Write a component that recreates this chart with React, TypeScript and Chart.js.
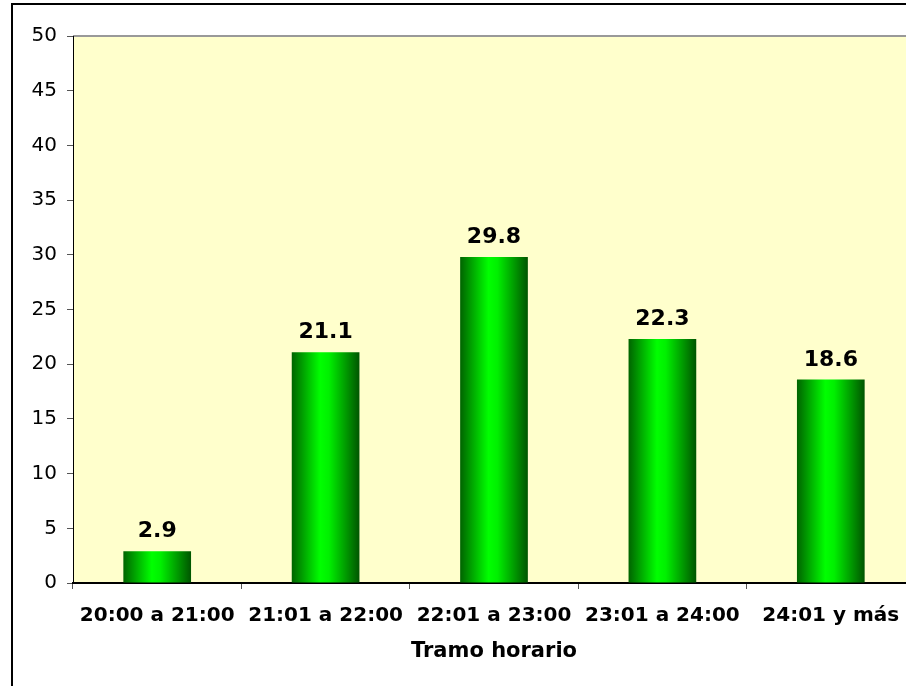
import React, { useEffect, useRef } from "react";
import { Chart, registerables } from "chart.js";

Chart.register(...registerables);

const categories = ["20:00 a 21:00", "21:01 a 22:00", "22:01 a 23:00", "23:01 a 24:00", "24:01 y más"];
const values = [2.9, 21.1, 29.8, 22.3, 18.6];
const xTitle = "Tramo horario";
const yMin = 0;
const yMax = 50;
const yStep = 5;

const FONT = '"DejaVu Sans", Verdana, sans-serif';
const CAT_PCT = 1;
const BAR_PCT = 0.402;

const bgPlugin = {
  id: "plotBg",
  beforeDraw(chart: any) {
    const { ctx, chartArea } = chart;
    if (!chartArea) return;
    ctx.save();
    ctx.fillStyle = "#FFFFCC";
    ctx.fillRect(chartArea.left, chartArea.top, chartArea.right - chartArea.left, chartArea.bottom - chartArea.top);
    ctx.strokeStyle = "#999999";
    ctx.lineWidth = 2;
    ctx.beginPath();
    ctx.moveTo(chartArea.left, chartArea.top);
    ctx.lineTo(chartArea.right, chartArea.top);
    ctx.stroke();
    ctx.restore();
  },
};

const labelPlugin = {
  id: "valueLabels",
  afterDatasetsDraw(chart: any) {
    const { ctx } = chart;
    const meta = chart.getDatasetMeta(0);
    ctx.save();
    ctx.font = `bold 22px ${FONT}`;
    ctx.fillStyle = "#000";
    ctx.textAlign = "center";
    ctx.textBaseline = "alphabetic";
    meta.data.forEach((bar: any, i: number) => {
      ctx.fillText(String(values[i]), bar.x, bar.y - 14);
    });
    ctx.restore();
  },
};

export default function App() {
  const ref = useRef<HTMLCanvasElement>(null);
  useEffect(() => {
    if (!ref.current) return;
    const chart = new Chart(ref.current, {
      type: "bar",
      data: {
        labels: categories,
        datasets: [
          {
            data: values,
            borderWidth: 0,
            categoryPercentage: CAT_PCT,
            barPercentage: BAR_PCT,
            backgroundColor: (c: any) => {
              const ch = c.chart;
              const xs = ch.scales && ch.scales.x;
              if (!ch.chartArea || !xs) return "#00cc00";
              const cx = xs.getPixelForValue(c.dataIndex);
              const w = (xs.width / categories.length) * CAT_PCT * BAR_PCT;
              const g = ch.ctx.createLinearGradient(cx - w / 2, 0, cx + w / 2, 0);
              g.addColorStop(0, "#006400");
              g.addColorStop(0.42, "#00ff00");
              g.addColorStop(0.55, "#00f000");
              g.addColorStop(1, "#005500");
              return g;
            },
          },
        ],
      },
      options: {
        responsive: false,
        animation: false,
        devicePixelRatio: 1,
        layout: { padding: { left: 0, right: 0, top: 31, bottom: 22 } },
        plugins: { legend: { display: false }, tooltip: { enabled: false }, title: { display: false } },
        scales: {
          x: {
            offset: true,
            grid: { display: true, drawOnChartArea: false, drawTicks: true, tickLength: 6, offset: true, color: "#555" },
            border: { display: true, color: "#000", width: 2 },
            ticks: { color: "#000", font: { family: FONT, size: 20, weight: "bold" }, padding: 15, maxRotation: 0, autoSkip: false },
            title: { display: true, text: xTitle, color: "#000", font: { family: FONT, size: 21, weight: "bold" }, padding: { top: 0, bottom: 19 } },
            afterFit: (s: any) => { s.height = 100; },
          },
          y: {
            min: yMin,
            max: yMax,
            grid: { display: true, drawOnChartArea: false, drawTicks: true, tickLength: 6, color: "#555" },
            border: { display: true, color: "#000", width: 1 },
            ticks: { stepSize: yStep, color: "#000", font: { family: FONT, size: 20 }, padding: 10 },
            afterFit: (s: any) => { s.width = 60; },
          },
        },
      },
      plugins: [bgPlugin, labelPlugin],
    });
    return () => chart.destroy();
  }, []);

  return (
    <div style={{ position: "fixed", left: 0, top: 0, width: 906, height: 686, overflow: "hidden", background: "#fff" }}>
      <div style={{ position: "absolute", left: 11, top: 3, width: 904, height: 702, border: "2px solid #000", background: "#fff" }}>
        <canvas ref={ref} width={902} height={700} style={{ display: "block" }} />
      </div>
    </div>
  );
}
